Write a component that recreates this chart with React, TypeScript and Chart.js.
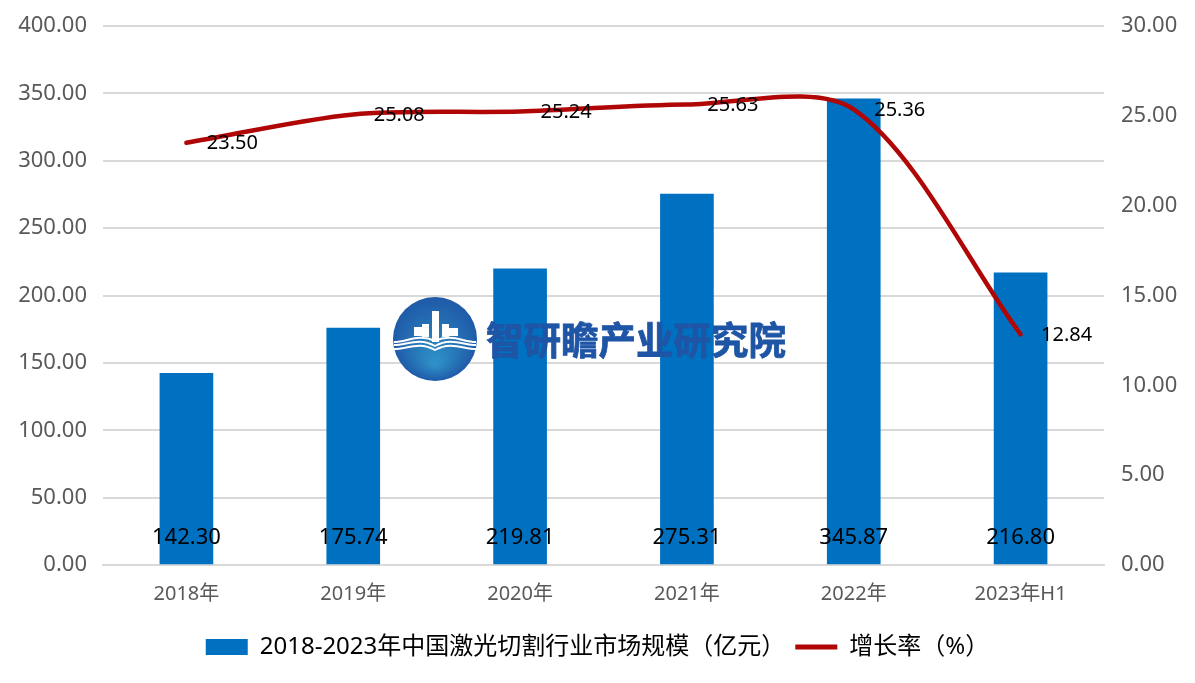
import React, { useEffect, useRef } from "react";
import { Chart, registerables } from "chart.js";

Chart.register(...registerables);

const categories = ["2018年", "2019年", "2020年", "2021年", "2022年", "2023年H1"];
const marketSize = [142.3, 175.74, 219.81, 275.31, 345.87, 216.8];
const growthRate = [23.5, 25.08, 25.24, 25.63, 25.36, 12.84];
const barLabel = "2018-2023年中国激光切割行业市场规模（亿元）";
const lineLabel = "增长率（%）";
const watermark = "智研瞻产业研究院";

const FONT = "'Noto Sans', 'Noto Sans CJK SC', sans-serif";
const LINE_COLOR = "#B00606";

const overlay = {
  id: "overlay",
  afterDatasetsDraw(chart: any) {
    const { ctx } = chart;
    // data labels
    ctx.save();
    ctx.fillStyle = "#000";
    ctx.textBaseline = "middle";
    ctx.textAlign = "center";
    const barMeta = chart.getDatasetMeta(0);
    const baseY = chart.scales.y.getPixelForValue(0);
    ctx.font = `22px ${FONT}`;
    barMeta.data.forEach((el: any, i: number) => {
      ctx.fillText(marketSize[i].toFixed(2), el.x, baseY - 27);
    });
    const lineMeta = chart.getDatasetMeta(1);
    ctx.font = `20px ${FONT}`;
    lineMeta.data.forEach((el: any, i: number) => {
      ctx.fillText(growthRate[i].toFixed(2), el.x + 46, el.y + 1);
    });
    ctx.restore();

    // watermark logo
    ctx.save();
    const cx = 435, cy = 339, r = 42;
    const g = ctx.createRadialGradient(cx, cy + 24, 3, cx, cy, r);
    g.addColorStop(0, "#2E8FC6");
    g.addColorStop(1, "#1F5AA8");
    ctx.fillStyle = g;
    ctx.beginPath();
    ctx.arc(cx, cy, r, 0, Math.PI * 2);
    ctx.fill();
    ctx.fillStyle = "#fff";
    ([[-21, 327, 8, 9], [-13, 324, 7, 13], [-3, 311, 7, 31], [7, 324, 7, 13], [14, 328, 9, 8]] as number[][]).forEach(
      ([dx, y, w, h]) => ctx.fillRect(cx + dx, y, w, h)
    );
    ctx.strokeStyle = "#fff";
    ctx.lineWidth = 2;
    [[342, 335, 341], [345, 339, 346], [349, 343, 350]].forEach(([edge, lobe, mid]) => {
      ctx.beginPath();
      ctx.moveTo(cx - 41, edge);
      ctx.bezierCurveTo(cx - 28, edge, cx - 16, lobe - 2, cx, mid);
      ctx.bezierCurveTo(cx + 16, lobe - 2, cx + 28, edge, cx + 41, edge);
      ctx.stroke();
    });
    ctx.fillStyle = "#1F55A5";
    ctx.strokeStyle = "#1F55A5";
    ctx.lineWidth = 0.8;
    ctx.font = `bold 37.5px 'Noto Sans CJK SC', sans-serif`;
    ctx.textAlign = "left";
    ctx.textBaseline = "middle";
    ctx.fillText(watermark, 486, 340);
    ctx.strokeText(watermark, 486, 340);
    ctx.restore();
  },
};

export default function App() {
  const ref = useRef<HTMLCanvasElement>(null);
  useEffect(() => {
    const chart = new Chart(ref.current!, {
      type: "bar",
      data: {
        labels: categories,
        datasets: [
          {
            type: "bar",
            label: barLabel,
            data: marketSize,
            backgroundColor: "#0070C0",
            barThickness: 53,
            yAxisID: "y",
            order: 2,
          },
          {
            type: "line",
            label: lineLabel,
            data: growthRate,
            borderColor: LINE_COLOR,
            backgroundColor: LINE_COLOR,
            borderWidth: 4.5,
            borderCapStyle: "round",
            tension: 0.3,
            pointRadius: 0,
            yAxisID: "y1",
            order: 1,
          },
        ],
      } as any,
      plugins: [overlay],
      options: {
        responsive: false,
        animation: false,
        devicePixelRatio: 1,
        layout: { autoPadding: false, padding: { top: 26, bottom: 14 } },
        scales: {
          x: {
            grid: { display: false },
            border: { color: "#D9D9D9", width: 2 },
            ticks: { color: "#595959", font: { size: 20, family: FONT }, padding: 9, maxRotation: 0 },
            afterFit: (s: any) => { s.height = 60; },
          },
          y: {
            position: "left",
            min: 0,
            max: 400,
            grid: { color: "#D9D9D9", lineWidth: 2, drawTicks: false },
            border: { display: false },
            ticks: {
              stepSize: 50,
              padding: 16,
              color: "#595959",
              font: { size: 22, family: FONT },
              callback: (v: any) => Number(v).toFixed(2),
            },
            afterFit: (s: any) => { s.width = 103; s.paddingTop = 0; s.paddingBottom = 0; },
          },
          y1: {
            position: "right",
            min: 0,
            max: 30,
            grid: { display: false, drawTicks: false },
            border: { display: false },
            ticks: {
              stepSize: 5,
              padding: 17,
              color: "#595959",
              font: { size: 22, family: FONT },
              callback: (v: any) => Number(v).toFixed(2),
            },
            afterFit: (s: any) => { s.width = 91; s.paddingTop = 0; s.paddingBottom = 0; },
          },
        },
        plugins: {
          tooltip: { enabled: false },
          legend: {
            position: "bottom",
            labels: {
              color: "#000",
              font: { size: 24, family: FONT },
              usePointStyle: true,
              pointStyleWidth: 42,
              boxHeight: 16,
              padding: 10,
              generateLabels: () => [
                { text: barLabel, fillStyle: "#0070C0", strokeStyle: "#0070C0", lineWidth: 0, pointStyle: "rect", fontColor: "#000", datasetIndex: 0 },
                { text: lineLabel, fillStyle: LINE_COLOR, strokeStyle: LINE_COLOR, lineWidth: 5, pointStyle: "line", fontColor: "#000", datasetIndex: 1 },
              ],
            },
          },
        },
      } as any,
    });
    return () => chart.destroy();
  }, []);
  return (
    <div style={{ position: "absolute", left: 0, top: 0, width: 1195, height: 683, background: "#fff" }}>
      <canvas ref={ref} width={1195} height={683} style={{ display: "block" }} />
    </div>
  );
}
